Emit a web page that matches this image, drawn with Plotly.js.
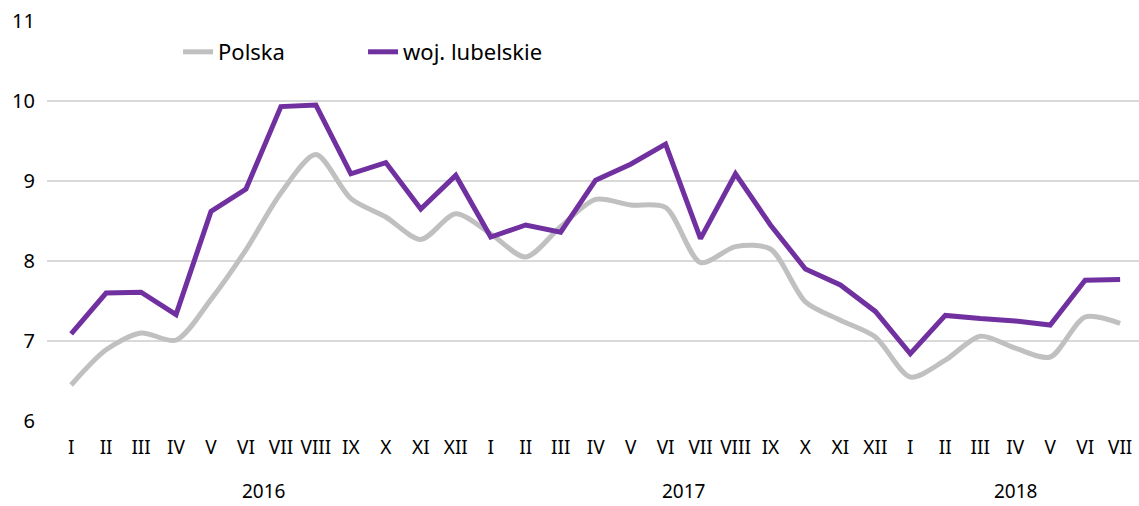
<!DOCTYPE html>
<html>
<head>
<meta charset="utf-8">
<script src="https://cdn.plot.ly/plotly-3.0.1.min.js"></script>
<style>html,body{margin:0;padding:0;background:#fff;}#chart{width:1139px;height:506px;}</style>
</head>
<body>
<div id="chart"></div>
<script>
const months = ["I","II","III","IV","V","VI","VII","VIII","IX","X","XI","XII",
                "I","II","III","IV","V","VI","VII","VIII","IX","X","XI","XII",
                "I","II","III","IV","V","VI","VII"];
const years = ["2016","2017","2018"];
const yearPos = [5.5, 17.5, 27];
const polska = [6.45,6.89,7.10,7.01,7.52,8.14,8.85,9.33,8.78,8.55,8.27,8.59,
                8.34,8.05,8.43,8.77,8.70,8.67,7.98,8.18,8.15,7.49,7.26,7.05,
                6.55,6.76,7.06,6.91,6.80,7.30,7.22];
const lubelskie = [7.09,7.60,7.61,7.33,8.62,8.90,9.93,9.95,9.09,9.23,8.65,9.07,
                   8.30,8.45,8.36,9.01,9.21,9.46,8.28,9.09,8.45,7.90,7.70,7.37,
                   6.84,7.32,7.28,7.25,7.20,7.76,7.77];
const idx = months.map((m,i)=>i);
const FONT = "Noto Sans, Open Sans, sans-serif";

const data = [
  {x: idx, y: polska, name: "Polska", type: "scatter", mode: "lines",
   line: {color: "#c0c0c0", width: 5, shape: "spline", smoothing: 0.8}},
  {x: idx, y: lubelskie, name: "woj. lubelskie", type: "scatter", mode: "lines",
   line: {color: "#7030a0", width: 5}}
];

const layout = {
  width: 1139, height: 506,
  margin: {l: 47, r: 0, t: 21, b: 85},
  paper_bgcolor: "#fff", plot_bgcolor: "#fff",
  font: {family: FONT, size: 20, color: "#000"},
  showlegend: true,
  legend: {orientation: "h", x: 0.12, xanchor: "left", y: 0.975, yanchor: "top",
           font: {family: FONT, size: 22, color: "#000"}, bgcolor: "rgba(0,0,0,0)",
           entrywidth: 140},
  xaxis: {range: [-0.69, 30.54], tickvals: idx, ticktext: months, showgrid: false,
          zeroline: false, showline: false, ticks: "outside", ticklen: 9,
          tickcolor: "rgba(0,0,0,0)", tickfont: {family: FONT, size: 19}},
  yaxis: {range: [6, 11], dtick: 1, tick0: 6, showgrid: true, gridcolor: "#d9d9d9",
          gridwidth: 2, zeroline: false, showline: false, ticks: "outside", ticklen: 7,
          tickcolor: "rgba(0,0,0,0)", tickfont: {family: FONT, size: 20}},
  annotations: years.map((y,i)=>({x: yearPos[i], y: 0, xref: "x", yref: "paper",
      yshift: -85, text: y, showarrow: false, font: {family: FONT, size: 19, color: "#000"}}))
};

Plotly.newPlot("chart", data, layout, {displayModeBar: false, staticPlot: true});
</script>
</body>
</html>
